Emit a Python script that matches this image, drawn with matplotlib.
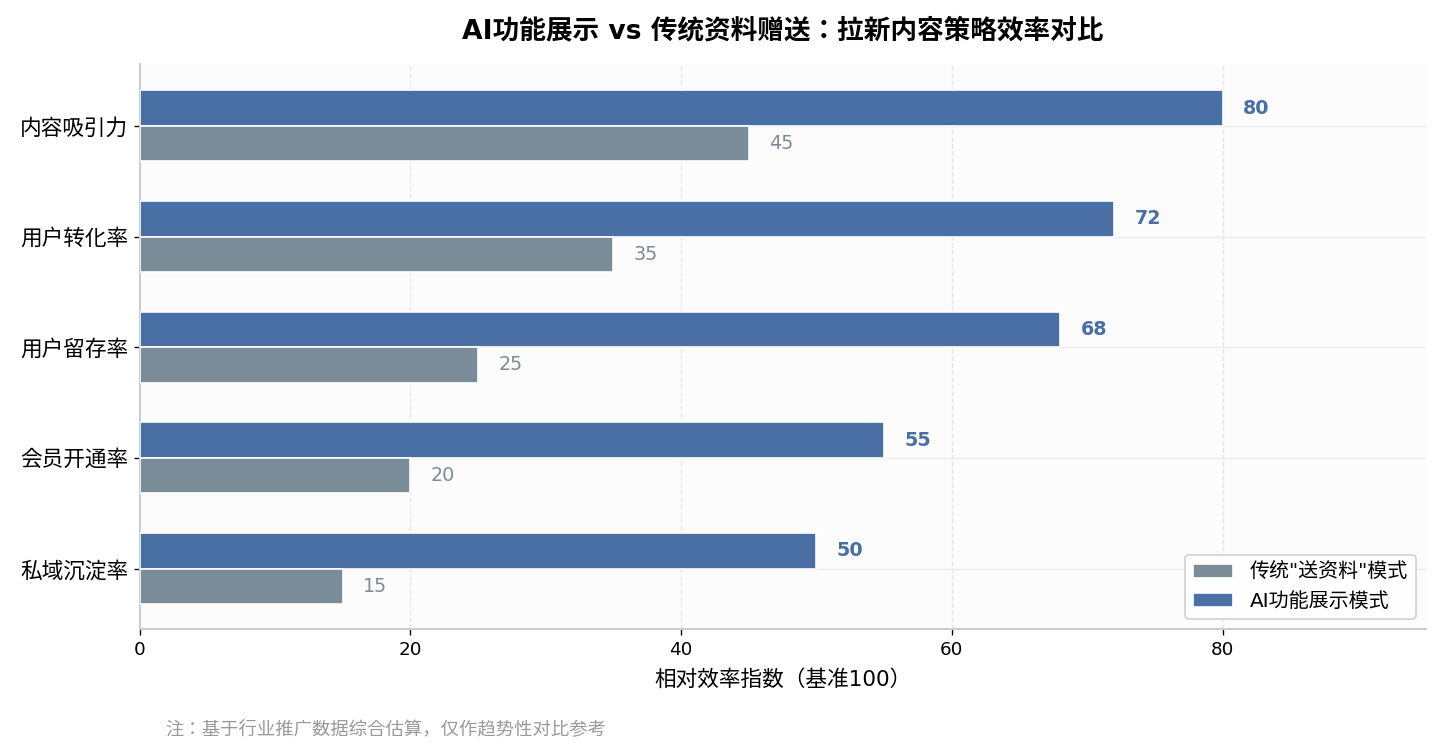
import matplotlib.pyplot as plt
import numpy as np

plt.rcParams['font.family'] = ['DejaVu Sans', 'Noto Sans CJK JP']

categories = ['内容吸引力', '用户转化率', '用户留存率', '会员开通率', '私域沉淀率']
ai_values = [80, 72, 68, 55, 50]
traditional_values = [45, 35, 25, 20, 15]

blue = '#4a6fa5'
gray = '#7b8c99'

fig, ax = plt.subplots(figsize=(12, 6.2667), dpi=120)
fig.subplots_adjust(left=0.097, right=0.99, top=0.915, bottom=0.163)

y = np.arange(len(categories))
h = 0.32

ax.barh(y - h / 2, ai_values, height=h, color=blue, edgecolor='white',
        linewidth=1.0, label='AI功能展示模式', zorder=3)
ax.barh(y + h / 2, traditional_values, height=h, color=gray, edgecolor='white',
        linewidth=1.0, label='传统"送资料"模式', zorder=3)

for i, v in enumerate(ai_values):
    ax.text(v + 1.5, i - h / 2, str(v), va='center', ha='left', fontsize=11.5,
            fontweight='bold', color=blue)
for i, v in enumerate(traditional_values):
    ax.text(v + 1.5, i + h / 2, str(v), va='center', ha='left', fontsize=11.5,
            color=gray)

ax.set_yticks(y)
ax.set_yticklabels(categories, fontsize=13)
ax.set_ylim(len(categories) - 0.45, -0.56)
ax.set_xlim(0, 95)
ax.set_xticks([0, 20, 40, 60, 80])
ax.tick_params(axis='x', labelsize=11)

ax.set_facecolor('#fcfcfc')
ax.grid(axis='x', linestyle='--', color='#e6e6e6', linewidth=0.8, zorder=0)
ax.grid(axis='y', linestyle='-', color='#ececec', linewidth=0.8, zorder=0)
for s in ['top', 'right']:
    ax.spines[s].set_visible(False)
for s in ['left', 'bottom']:
    ax.spines[s].set_color('#cccccc')
    ax.spines[s].set_linewidth(1.2)

ax.set_xlabel('相对效率指数（基准100）', fontsize=13, labelpad=6)
ax.set_title('AI功能展示 vs 传统资料赠送：拉新内容策略效率对比', fontsize=16,
             fontweight='bold', pad=15)

handles, labels = ax.get_legend_handles_labels()
ax.legend(handles[::-1], labels[::-1], loc='lower right', fontsize=12,
          framealpha=0.9, edgecolor='#cccccc')

fig.text(0.115, 0.024, '注：基于行业推广数据综合估算，仅作趋势性对比参考', fontsize=11,
         color='#999999')

plt.savefig('out.png', dpi=120)
